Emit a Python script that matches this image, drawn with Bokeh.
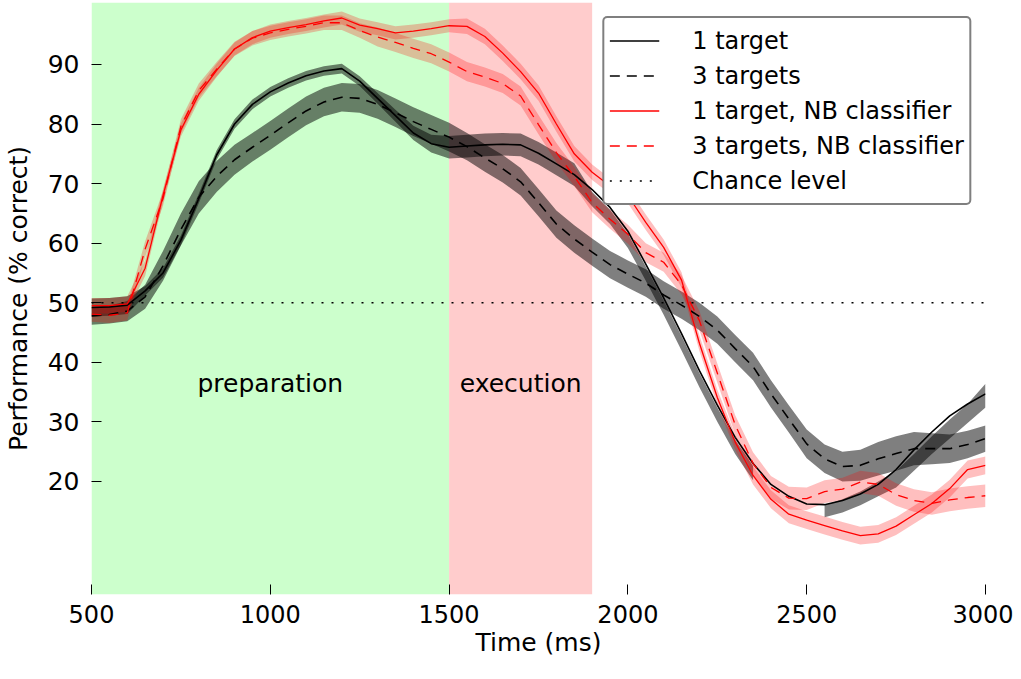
from bokeh.plotting import figure
from bokeh.models import FixedTicker, Legend, LegendItem, Range1d
from bokeh.embed import file_html
from bokeh.resources import INLINE
from bokeh.core.properties import value

# ---------------- data ----------------
time_ms = [500, 550, 600, 650, 700, 750, 800, 850, 900, 950,
           1000, 1050, 1100, 1150, 1200, 1250, 1300, 1350, 1400, 1450,
           1500, 1550, 1600, 1650, 1700, 1750, 1800, 1850, 1900, 1950,
           2000, 2050, 2100, 2150, 2200, 2250, 2300, 2350, 2400, 2450,
           2500, 2550, 2600, 2650, 2700, 2750, 2800, 2850, 2900, 2950, 3000]

one_target = [49.2, 49.3, 49.6, 52.0, 55.0, 60.5, 67.5, 74.8, 80.0, 83.3,
              85.4, 86.9, 88.1, 88.9, 89.3, 87.2, 84.3, 81.4, 78.5, 76.7,
              76.1, 76.3, 76.5, 76.6, 76.5, 75.1, 73.3, 71.5, 69.0, 66.0,
              62.0, 56.5, 50.8, 44.8, 38.6, 32.8, 27.4, 23.0, 19.5, 17.5,
              16.2, 16.1, 16.8, 17.9, 19.5, 22.0, 25.3, 28.3, 31.0, 33.0, 34.7]

one_target_band_lo = [47.7, 47.8, 48.1, 51.2, 54.2, 59.7, 66.7, 74.0, 79.2, 82.5,
                      84.6, 86.1, 87.3, 88.1, 88.5, 86.4, 83.4, 80.4, 77.3, 75.2,
                      74.2, 74.4, 74.6, 74.7, 74.6, 73.2, 71.4, 69.6, 66.2, 63.2,
                      59.2, 53.7, 48.0, 42.0, 35.8, 30.0, 24.6, 20.2, None, None,
                      None, 14.0, 14.8, 16.0, 17.5, 19.0, 21.8, 24.6, 27.2, 29.8, 32.4]
one_target_band_hi = [50.7, 50.8, 51.1, 52.8, 55.8, 61.3, 68.3, 75.6, 80.8, 84.1,
                      86.2, 87.7, 88.9, 89.7, 90.1, 88.0, 85.2, 82.4, 79.7, 78.2,
                      78.0, 78.2, 78.4, 78.5, 78.4, 77.0, 75.2, 73.4, 68.6, 65.6,
                      61.6, 56.1, 50.4, 44.4, 38.2, 32.4, 27.0, 22.6, None, None,
                      None, 16.0, 17.0, 18.3, 20.0, 21.8, 24.6, 27.6, 30.4, 33.0, 36.4]

three_targets = [47.8, 48.0, 48.6, 51.0, 56.2, 62.3, 67.7, 71.2, 74.0, 76.1,
                 78.1, 80.2, 82.2, 83.7, 84.5, 84.3, 83.3, 81.9, 80.4, 79.1,
                 77.8, 76.2, 74.3, 72.5, 70.3, 66.8, 63.2, 60.7, 58.5, 56.4,
                 54.8, 53.3, 51.3, 49.6, 47.7, 45.4, 42.3, 39.3, 34.7, 30.5,
                 26.3, 23.8, 22.5, 22.7, 23.8, 24.7, 25.5, 25.5, 25.5, 26.2, 27.2]
three_targets_err = [1.5, 1.5, 1.7, 2.0, 2.5, 2.7, 2.7, 2.6, 2.5, 2.4,
                     2.4, 2.4, 2.4, 2.4, 2.4, 2.4, 2.4, 2.4, 2.4, 2.4,
                     2.4, 2.3, 2.3, 2.3, 2.3, 2.3, 2.3, 2.3, 2.3, 2.3,
                     2.3, 2.3, 2.3, 2.3, 2.3, 2.3, 2.3, 2.3, 2.3, 2.3,
                     2.4, 2.4, 2.5, 2.6, 2.8, 2.9, 2.8, 2.6, 2.4, 2.3, 2.2]

one_target_nb = [49.5, 49.5, 49.8, 55.8, 68.0, 79.0, 85.0, 89.0, 92.6, 94.5,
                 95.6, 96.2, 96.7, 97.3, 97.8, 96.6, 96.0, 95.3, 95.6, 96.0,
                 96.5, 96.4, 94.7, 91.9, 88.8, 85.2, 80.0, 75.0, 71.9, 69.6,
                 68.0, 63.5, 59.3, 53.8, 43.2, 34.1, 26.6, 21.0, 17.0, 14.5,
                 13.5, 12.6, 11.7, 10.9, 11.2, 12.5, 14.4, 16.3, 18.8, 22.0, 22.7]
one_target_nb_err = [1.3, 1.3, 1.3, 1.3, 1.1, 1.1, 1.1, 1.1, 1.1, 1.1,
                     1.1, 1.1, 1.1, 1.1, 1.1, 1.1, 1.1, 1.1, 1.1, 1.1,
                     1.1, 1.3, 1.3, 1.3, 1.3, 1.3, 1.3, 1.3, 1.3, 1.3,
                     1.3, 1.3, 1.3, 1.3, 1.3, 1.3, 1.3, 1.5, 1.5, 1.5,
                     1.5, 1.5, 1.5, 1.5, 1.5, 1.5, 1.5, 1.5, 1.5, 1.5, 1.5]

three_targets_nb = [48.1, 47.9, 48.3, 59.0, 67.5, 79.6, 85.6, 89.2, 92.6, 94.4,
                    95.3, 95.9, 96.4, 97.0, 97.0, 95.7, 94.6, 93.7, 92.7, 91.8,
                    90.4, 88.8, 87.9, 86.8, 84.7, 79.9, 75.2, 71.2, 66.8, 64.0,
                    61.5, 58.4, 56.8, 53.0, 47.0, 38.2, 29.5, 23.0, 19.0, 17.2,
                    17.1, 18.3, 18.7, 19.9, 19.5, 17.8, 16.8, 16.3, 16.9, 17.3, 17.6]
three_targets_nb_err = [1.3, 1.3, 1.3, 1.3, 1.2, 1.2, 1.2, 1.2, 1.2, 1.2,
                        1.2, 1.2, 1.2, 1.2, 1.2, 1.2, 1.6, 1.6, 1.6, 1.6,
                        1.6, 1.6, 1.6, 1.6, 1.6, 1.6, 1.6, 1.6, 1.6, 1.6,
                        1.6, 1.6, 1.6, 1.6, 1.6, 1.6, 1.6, 1.9, 1.9, 1.9,
                        1.9, 1.9, 1.9, 1.9, 1.9, 1.9, 1.9, 1.9, 1.9, 1.9, 1.9]

chance_level = 50
phase_names = ["preparation", "execution"]
phase_start = [500, 1500]
phase_end = [1500, 1900]

x_ticks = [500, 1000, 1500, 2000, 2500, 3000]
y_ticks = [20, 30, 40, 50, 60, 70, 80, 90]

series_labels = ["1 target", "3 targets", "1 target, NB classifier",
                 "3 targets, NB classifier", "Chance level"]

# ---------------- styles ----------------
FONT = "DejaVu Sans"
phase_colors = ["#ccffcc", "#ffcccc"]
DASH = "10 7"

p = figure(width=1013, height=663, output_backend="svg", toolbar_location=None,
           x_range=Range1d(500, 3000), y_range=Range1d(1.02, 100.4),
           min_border_left=91, min_border_right=28, min_border_top=2,
           min_border_bottom=69)
p.outline_line_color = None
p.grid.visible = False
p.background_fill_color = "white"
p.border_fill_color = "white"

# phase shading
top = p.y_range.end
bot = p.y_range.start
p.quad(left=phase_start, right=phase_end, bottom=[bot, bot], top=[top, top],
       fill_color=phase_colors, line_color=None)

# bands
def segs(xs, lo, hi):
    cur = []
    for x, a, b in zip(xs, lo, hi):
        if a is None or b is None:
            if cur:
                yield cur
            cur = []
        else:
            cur.append((x, a, b))
    if cur:
        yield cur

def band(lo, hi, color, alpha):
    for s in segs(time_ms, lo, hi):
        p.varea(x=[q[0] for q in s], y1=[q[1] for q in s], y2=[q[2] for q in s],
                fill_color=color, fill_alpha=alpha)

band(one_target_band_lo, one_target_band_hi, "black", 0.5)
band([m - e for m, e in zip(three_targets, three_targets_err)],
     [m + e for m, e in zip(three_targets, three_targets_err)], "black", 0.5)
band([m - e for m, e in zip(one_target_nb, one_target_nb_err)],
     [m + e for m, e in zip(one_target_nb, one_target_nb_err)], "red", 0.25)
band([m - e for m, e in zip(three_targets_nb, three_targets_nb_err)],
     [m + e for m, e in zip(three_targets_nb, three_targets_nb_err)], "red", 0.25)

# lines
r1 = p.line(time_ms, one_target, line_color="black", line_width=1.6)
r2 = p.line(time_ms, three_targets, line_color="black", line_width=1.6, line_dash=DASH)
r3 = p.line(time_ms, one_target_nb, line_color="red", line_width=1.3)
r4 = p.line(time_ms, three_targets_nb, line_color="red", line_width=1.3, line_dash=DASH)
r5 = p.line([time_ms[0], time_ms[-1]], [chance_level, chance_level],
            line_color="black", line_width=1.5, line_dash="2 8")

# phase labels
p.text(x=[(a + b) / 2 for a, b in zip(phase_start, phase_end)], y=[36.4, 36.4],
       text=phase_names, text_font=value(FONT), text_font_size="25px",
       text_align="center", text_baseline="middle", text_color="black")

# axes
for ax in (p.xaxis[0], p.yaxis[0]):
    ax.axis_line_color = None
    ax.major_tick_in = 10
    ax.major_tick_out = 0
    ax.minor_tick_line_color = None
    ax.major_tick_line_color = "black"
    ax.major_tick_line_width = 1
    ax.major_label_text_font = FONT
    ax.major_label_text_font_size = "25px"
    ax.major_label_text_color = "black"
    ax.axis_label_text_font = FONT
    ax.axis_label_text_font_size = "25px"
    ax.axis_label_text_font_style = "normal"
    ax.axis_label_text_color = "black"

p.xaxis.major_label_text_font_size = "24px"
p.xaxis.ticker = FixedTicker(ticks=x_ticks)
p.yaxis.ticker = FixedTicker(ticks=y_ticks)
p.xaxis.axis_label = "Time (ms)"
p.yaxis.axis_label = "Performance (% correct)"
p.xaxis.major_label_standoff = 10
p.xaxis.axis_label_standoff = 2
p.yaxis.major_label_standoff = 12
p.yaxis.axis_label_standoff = 12

legend = Legend(items=[LegendItem(label=l, renderers=[r])
                       for l, r in zip(series_labels, [r1, r2, r3, r4, r5])],
                location="top_right", margin=14, padding=5,
                glyph_width=50, glyph_height=35, label_height=35,
                label_standoff=33, spacing=0,
                label_text_font=FONT, label_text_font_size="24px",
                label_text_color="black",
                border_line_color="black", border_line_width=2,
                background_fill_color="white", background_fill_alpha=1.0)
if "border_radius" in legend.properties():
    legend.border_radius = 5
p.add_layout(legend, "center")

open("out.html", "w").write(file_html(p, INLINE))
